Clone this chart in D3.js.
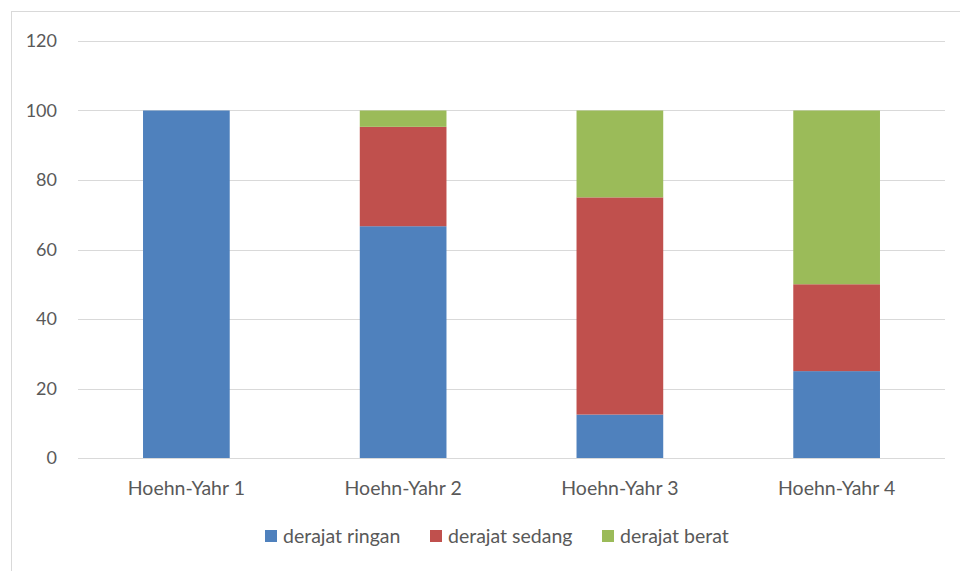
<!DOCTYPE html>
<html>
<head>
<meta charset="utf-8">
<script src="https://cdn.jsdelivr.net/npm/d3@7"></script>
<style>
  html, body { margin: 0; padding: 0; background: #fff; }
  svg text { font-family: Lato, "Open Sans", sans-serif; fill: #595959; }
</style>
</head>
<body>
<svg id="chart" width="960" height="571"></svg>
<script>
// Stages and the share (%) of each severity within a stage
const categories = ["Hoehn-Yahr 1", "Hoehn-Yahr 2", "Hoehn-Yahr 3", "Hoehn-Yahr 4"];
const seriesNames = ["derajat ringan", "derajat sedang", "derajat berat"];
const ringan = [100, 66.7, 12.5, 25];
const sedang = [0, 28.6, 62.5, 25];
const berat  = [0, 4.7, 25, 50];
const yTicks = [0, 20, 40, 60, 80, 100, 120];
const colors = ["#4F81BD", "#C0504D", "#9BBB59"];

const svg = d3.select("#chart");
const plot = { left: 78, right: 945, top: 41, bottom: 458 };

// outer frame
svg.append("rect")
  .attr("x", 11.5).attr("y", 11.5)
  .attr("width", 1000).attr("height", 1000)
  .attr("fill", "none").attr("stroke", "#d9d9d9").attr("stroke-width", 1);

const x = d3.scaleBand().domain(categories).range([plot.left, plot.right]).padding(0);
const y = d3.scaleLinear().domain([0, 120]).range([plot.bottom, plot.top]);

// gridlines
svg.append("g").selectAll("line").data(yTicks).join("line")
  .attr("x1", plot.left).attr("x2", plot.right)
  .attr("y1", d => Math.round(y(d)) + 0.5).attr("y2", d => Math.round(y(d)) + 0.5)
  .attr("stroke", "#d9d9d9").attr("stroke-width", 1);

// y tick labels
svg.append("g").selectAll("text").data(yTicks).join("text")
  .attr("x", 57).attr("y", d => y(d))
  .attr("dy", "0.36em")
  .attr("text-anchor", "end")
  .attr("font-size", 18)
  .text(d => d);

// stacked bars
const rows = categories.map((c, i) => ({
  cat: c,
  [seriesNames[0]]: ringan[i],
  [seriesNames[1]]: sedang[i],
  [seriesNames[2]]: berat[i]
}));
const stacked = d3.stack().keys(seriesNames)(rows);
const barW = x.bandwidth() * 0.4;

svg.append("g").selectAll("g").data(stacked).join("g")
  .attr("fill", (d, i) => colors[i])
  .selectAll("rect").data(d => d.filter(s => s[1] - s[0] > 0)).join("rect")
  .attr("x", d => x(d.data.cat) + x.bandwidth() / 2 - barW / 2)
  .attr("width", barW)
  .attr("y", d => y(d[1]))
  .attr("height", d => y(d[0]) - y(d[1]));

// category labels
svg.append("g").selectAll("text").data(categories).join("text")
  .attr("x", d => x(d) + x.bandwidth() / 2)
  .attr("y", 495)
  .attr("text-anchor", "middle")
  .attr("font-size", 19.5)
  .text(d => d);

// legend
const legendX = [265, 430, 602];
const lg = svg.append("g").selectAll("g").data(seriesNames).join("g")
  .attr("transform", (d, i) => `translate(${legendX[i]},530)`);
lg.append("rect").attr("width", 12).attr("height", 12).attr("fill", (d, i) => colors[i]);
lg.append("text").attr("x", 18).attr("y", 6).attr("dy", "0.36em")
  .attr("font-size", 19.5).text(d => d);
</script>
</body>
</html>
